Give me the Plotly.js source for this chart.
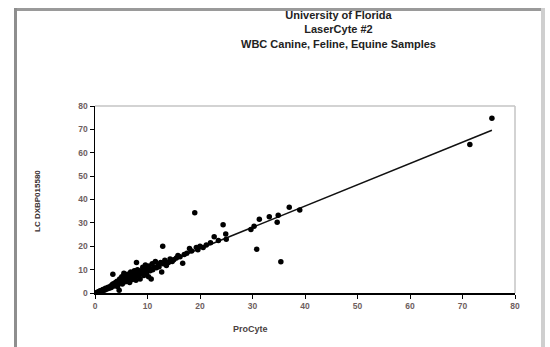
<!DOCTYPE html>
<html>
<head>
<meta charset="utf-8">
<script src="https://cdn.plot.ly/plotly-3.0.1.min.js"></script>
<style>html,body{margin:0;padding:0;background:#fff;}#chart{width:550px;height:347px;}</style>
</head>
<body>
<div id="chart"></div>
<script>
const titleLines = ["University of Florida", "LaserCyte #2", "WBC Canine, Feline, Equine Samples"];
const xTitle = "ProCyte";
const yTitle = "LC DXBP015580";
const tickVals = [0, 10, 20, 30, 40, 50, 60, 70, 80];

const procyte = [0.5,0.8,1,1.3,1.5,1.8,2,2.2,2.5,2.7,3,3.1,3.3,3.4,3.5,3.7,3.9,4,4.2,4.3,4.5,4.6,4.7,4.8,5,5.1,5.2,5.4,5.5,5.6,5.8,5.9,6,6.1,6.2,6.4,6.5,6.6,6.8,6.9,7,7.1,7.3,7.4,7.5,7.6,7.8,7.9,8,8.1,8.3,8.5,8.6,8.8,9,9.1,9.3,9.5,9.6,9.8,10,10.2,10.3,10.5,10.7,10.9,11,11.2,11.5,11.7,12,12.2,12.5,12.7,12.9,13,13.3,13.6,14,14.3,14.7,15,15.5,15.8,16.2,16.7,17,17.5,18,18.4,19,19.3,19.6,20,20.6,21.2,22,22.7,23.5,24.4,24.9,25,29.7,30.3,30.8,31.3,33.2,34.7,34.9,35.4,37,39,71.4,75.6];
const lcDx = [0.3,0.6,1,0.8,1.5,1.2,2,1.6,2.5,2,3,2.4,3.6,8,4,3,4.5,3.5,5,2.8,4.2,1.2,6,5.2,4.6,7,3.8,5.6,8.5,6.2,4.8,7.5,6.5,5,8,6,7.2,4.5,9,6.8,7.5,5.8,8.5,6.5,9.5,7,5.5,13,8,10,7.2,8.8,6,9.5,8.2,11,7.5,9.8,12,8.5,10.5,7,11.5,9.5,6,12.5,10,11,13.5,10.8,12,11.2,13,9,20,12.5,14,11.8,13,14.5,13.5,14.2,15,16,15.5,12.7,16.5,17,19,18,34.3,19.5,18.5,20,19.5,20.5,21.5,24.1,22.5,29.2,25.2,23,27.2,28.6,18.7,31.5,32.6,30.3,33.3,13.4,36.7,35.5,63.5,74.8];

// least-squares trend line from the data
const n = procyte.length;
let sx=0, sy=0, sxx=0, sxy=0;
for (let i=0;i<n;i++){ sx+=procyte[i]; sy+=lcDx[i]; sxx+=procyte[i]*procyte[i]; sxy+=procyte[i]*lcDx[i]; }
const slope = (n*sxy - sx*sy)/(n*sxx - sx*sx);
const intercept = (sy - slope*sx)/n;
const xMax = Math.max(...procyte);
const trendX = [0, xMax];
const trendY = trendX.map(v => intercept + slope*v);

const tickFont = {family: "Liberation Sans, Arial, sans-serif", size: 8.5, color: "#6e5e5e", weight: "bold"};

const traces = [
  {x: trendX, y: trendY, mode: "lines", line: {color: "#111", width: 1.6}, hoverinfo: "skip", showlegend: false},
  {x: procyte, y: lcDx, mode: "markers", marker: {color: "#000", size: 5.5, symbol: "circle"}, showlegend: false}
];

const L = 95, R = 35, T = 106, B = 54;
const W = 550 - L - R, H = 347 - T - B;
const px = v => (v - L) / W;           // pixel x -> paper x
const py = v => (347 - B - v) / H;     // pixel y -> paper y

const layout = {
  width: 550, height: 347,
  margin: {l: L, r: R, t: T, b: B, pad: 0},
  paper_bgcolor: "#fff", plot_bgcolor: "#fff",
  showlegend: false,
  xaxis: {range: [0, 80], tickvals: tickVals, ticks: "outside", ticklen: 4, tickcolor: "#000",
          showline: true, linecolor: "#000", linewidth: 1.5, showgrid: false, zeroline: false,
          tickfont: tickFont, fixedrange: true},
  yaxis: {range: [0, 80], tickvals: tickVals, ticks: "outside", ticklen: 4, tickcolor: "#000",
          showline: true, linecolor: "#000", linewidth: 1.5, showgrid: false, zeroline: false,
          tickfont: tickFont, fixedrange: true},
  shapes: [
    {type: "line", xref: "paper", yref: "paper", x0: 0, x1: 1, y0: 1, y1: 1, line: {color: "#c4c4c4", width: 1.5}},
    {type: "line", xref: "paper", yref: "paper", x0: 1, x1: 1, y0: 0, y1: 1, line: {color: "#c4c4c4", width: 1.5}},
    {type: "rect", xref: "paper", yref: "paper", x0: px(14), x1: px(545), y0: py(11), y1: py(8), fillcolor: "#9a9a9a", line: {width: 0}},
    {type: "rect", xref: "paper", yref: "paper", x0: px(14), x1: px(17), y0: py(352), y1: py(8), fillcolor: "#8e8e8e", line: {width: 0}},
    {type: "rect", xref: "paper", yref: "paper", x0: px(541), x1: px(545), y0: py(352), y1: py(8), fillcolor: "#cfcfcf", line: {width: 0}}
  ],
  annotations: [
    {text: titleLines.join("<br>"), xref: "paper", yref: "paper", x: px(338), y: py(7), xanchor: "center", yanchor: "top",
     showarrow: false, align: "center", font: {family: "Liberation Sans, Arial, sans-serif", size: 11, color: "#222", weight: "bold"}},
    {text: xTitle, xref: "paper", yref: "paper", x: px(250), y: py(329), xanchor: "center", yanchor: "middle",
     showarrow: false, font: {family: "Liberation Sans, Arial, sans-serif", size: 9, color: "#4a3f3f", weight: "bold"}},
    {text: yTitle, xref: "paper", yref: "paper", x: px(37), y: py(201), xanchor: "center", yanchor: "middle", textangle: -90,
     showarrow: false, font: {family: "Liberation Sans, Arial, sans-serif", size: 8, color: "#3a3030", weight: "bold"}}
  ]
};

Plotly.newPlot("chart", traces, layout, {displayModeBar: false, staticPlot: true});
</script>
</body>
</html>
